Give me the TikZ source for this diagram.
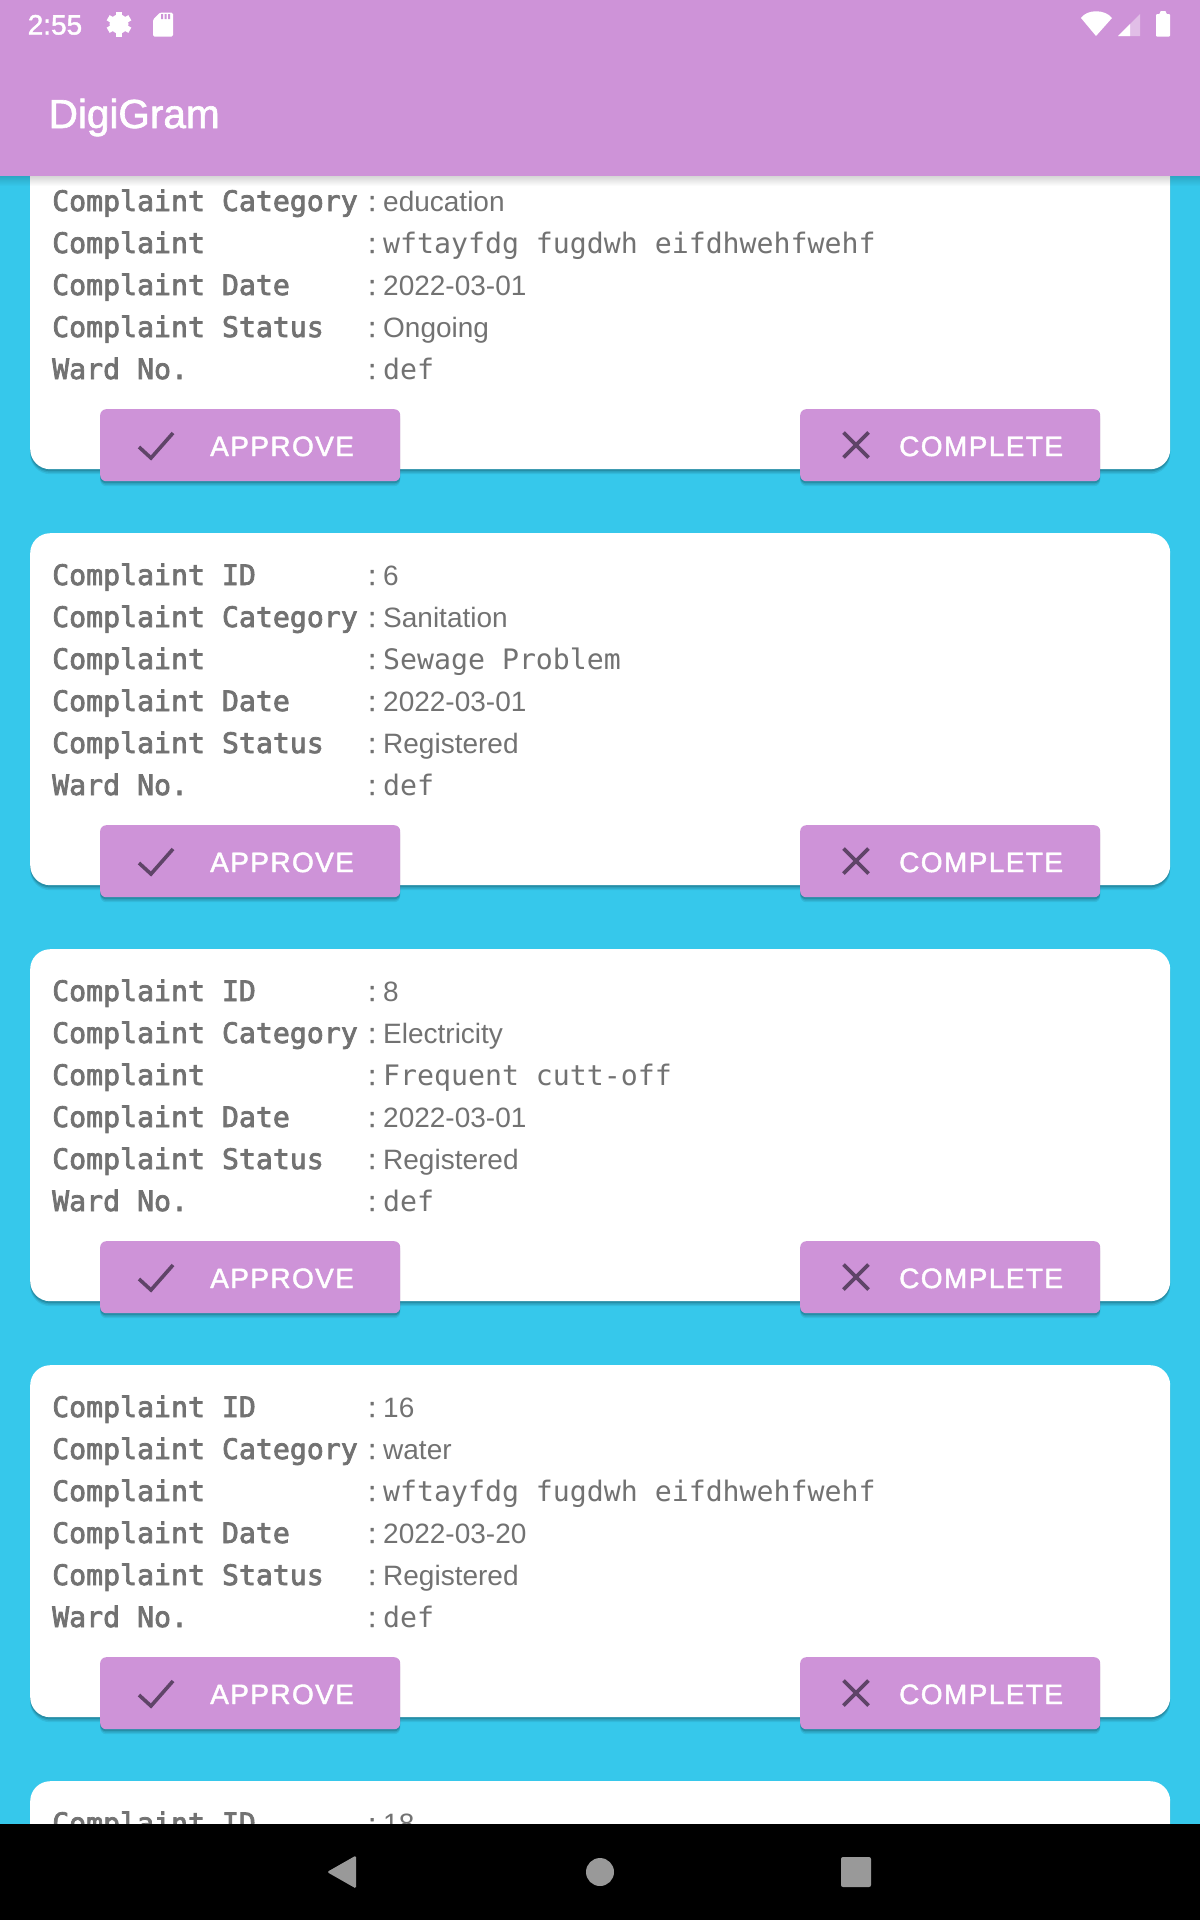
\documentclass[tikz,border=0pt]{standalone}
\usepackage{fontspec}
\usetikzlibrary{positioning,shadows}
\setmainfont{Liberation Sans}
\newfontfamily\monofont{DejaVu Sans Mono}
\newfontfamily\monobold[FakeBold=2.6]{DejaVu Sans Mono}
\newfontfamily\btnfont[LetterSpace=5,FakeBold=1.6]{Liberation Sans}
\newfontfamily\titlefont[FakeBold=1.6]{Liberation Sans}
\definecolor{barpurple}{HTML}{CE93D8}
\definecolor{skyback}{HTML}{36C8EB}
\definecolor{rowgray}{HTML}{727272}
\definecolor{icondark}{HTML}{5F4468}
\definecolor{navgray}{HTML}{999999}

% Offsets inside a card
\def\LabelToColon{++(316,0)}
\def\ColonToValue{++(15,0)}

% One card with its two buttons
\def\ComplaintCard#1#2{
  \node[cardbox] (#1) at (30,#2) {};
  \node[btnbox] (#1Approve) at ([shift={(70,292)}]#1.north west) {};
  \node[btnbox] (#1Complete) at ([shift={(770,292)}]#1.north west) {};
  \node[btntext] (#1ApproveText) at ([shift={(110,47)}]#1Approve.north west) {APPROVE};
  \node[btntext] (#1CompleteText) at ([shift={(99,47)}]#1Complete.north west) {COMPLETE};
  \draw[iconline] ([shift={(39,38)}]#1Approve.north west) -- ++(12,11) -- ++(22,-25);
  \draw[iconline] ([shift={(43.5,23.5)}]#1Complete.north west) -- ++(25,25);
  \draw[iconline] ([shift={(68.5,23.5)}]#1Complete.north west) -- ++(-25,25);
}
% One row of a card: card, row number, label, value
\def\ComplaintRow#1#2#3#4{
  \path (#1.north west) ++(22,{10+42*#2}) node[rowlabel] (#1Label#2) {#3}
        \LabelToColon node[rowlabel] (#1Colon#2) {\titlefont\fontsize{28}{28}\selectfont:}
        \ColonToValue node[rowvalue] (#1Value#2) {#4};
}
\def\Mono#1{{\monofont\fontsize{28.2}{28}\selectfont #1}}

\begin{document}
\begin{tikzpicture}[x=1pt,y=-1pt,
    softshadow/.style={
      drop shadow={shadow xshift=0pt,shadow yshift=-5pt,opacity=.07,fill=black},
      drop shadow={shadow xshift=0pt,shadow yshift=-3.5pt,opacity=.10,fill=black},
      drop shadow={shadow xshift=0pt,shadow yshift=-2pt,opacity=.14,fill=black}},
    cardbox/.style={fill=white,anchor=north west,inner sep=0pt,minimum width=1140pt,minimum height=352pt,
      rounded corners=20pt,softshadow},
    btnbox/.style={fill=barpurple,anchor=north west,inner sep=0pt,minimum width=300pt,minimum height=72pt,
      rounded corners=6pt,softshadow},
    btntext/.style={anchor=base west,inner sep=0pt,text=white,font=\btnfont\fontsize{28}{28}\selectfont},
    rowlabel/.style={anchor=base west,inner sep=0pt,text=rowgray,font=\monobold\fontsize{28.2}{28}\selectfont},
    rowvalue/.style={anchor=base west,inner sep=0pt,text=rowgray,font=\fontsize{28}{28}\selectfont},
    iconline/.style={draw=icondark,line width=3.6pt},
    navicon/.style={fill=navgray}]
\useasboundingbox (0,0) rectangle (1200,1920);
\clip (0,0) rectangle (1200,1920);
\fill[skyback] (0,0) rectangle (1200,1920);

% Cards
\ComplaintCard{CardA}{117}
\ComplaintRow{CardA}{2}{Complaint Category}{education}
\ComplaintRow{CardA}{3}{Complaint}{\Mono{wftayfdg fugdwh eifdhwehfwehf}}
\ComplaintRow{CardA}{4}{Complaint Date}{2022-03-01}
\ComplaintRow{CardA}{5}{Complaint Status}{Ongoing}
\ComplaintRow{CardA}{6}{Ward No.}{\Mono{def}}

\ComplaintCard{CardB}{533}
\ComplaintRow{CardB}{1}{Complaint ID}{6}
\ComplaintRow{CardB}{2}{Complaint Category}{Sanitation}
\ComplaintRow{CardB}{3}{Complaint}{\Mono{Sewage Problem}}
\ComplaintRow{CardB}{4}{Complaint Date}{2022-03-01}
\ComplaintRow{CardB}{5}{Complaint Status}{Registered}
\ComplaintRow{CardB}{6}{Ward No.}{\Mono{def}}

\ComplaintCard{CardC}{949}
\ComplaintRow{CardC}{1}{Complaint ID}{8}
\ComplaintRow{CardC}{2}{Complaint Category}{Electricity}
\ComplaintRow{CardC}{3}{Complaint}{\Mono{Frequent cutt-off}}
\ComplaintRow{CardC}{4}{Complaint Date}{2022-03-01}
\ComplaintRow{CardC}{5}{Complaint Status}{Registered}
\ComplaintRow{CardC}{6}{Ward No.}{\Mono{def}}

\ComplaintCard{CardD}{1365}
\ComplaintRow{CardD}{1}{Complaint ID}{16}
\ComplaintRow{CardD}{2}{Complaint Category}{water}
\ComplaintRow{CardD}{3}{Complaint}{\Mono{wftayfdg fugdwh eifdhwehfwehf}}
\ComplaintRow{CardD}{4}{Complaint Date}{2022-03-20}
\ComplaintRow{CardD}{5}{Complaint Status}{Registered}
\ComplaintRow{CardD}{6}{Ward No.}{\Mono{def}}

\node[cardbox] (CardE) at (30,1781) {};
\ComplaintRow{CardE}{1}{Complaint ID}{18}

% App bar
\foreach \i in {0,...,9} {
  \fill[black,opacity={0.16-0.016*\i}] (0,176+\i) rectangle (1200,177+\i);
}
\fill[barpurple] (0,0) rectangle (1200,176);
\node[anchor=base west,inner sep=0pt,text=white,font=\titlefont\fontsize{40.5}{40}\selectfont] (AppTitle) at (48.5,128) {DigiGram};

% Status bar
\node[anchor=base west,inner sep=0pt,text=white,font=\titlefont\fontsize{28}{28}\selectfont] (Clock) at (27.5,34.5) {2:55};
\foreach \a in {0,60,120} {
  \fill[white,rotate around={\a:(119,24)}] (116,11.5) rectangle (122,36.5);
}
\fill[white,even odd rule] (119,24) circle (9.5) (119,24) circle (4.6);
\fill[white,rounded corners=1.5pt] (153,19.5) -- (160,12.5) -- (173,12.5) -- (173,36.5) -- (153,36.5) -- cycle;
\fill[barpurple] (161,14) rectangle ++(2,5) (164.5,14) rectangle ++(2,5) (168,14) rectangle ++(2,5);
\fill[white] (1096,36) -- (1081,18) .. controls (1087,9) and (1105,9) .. (1112,18) -- cycle;
\fill[white,opacity=.4] (1118,36) -- (1140,36) -- (1140,14) -- cycle;
\fill[white] (1118,36) -- (1130,36) -- (1130,24) -- cycle;
\fill[white,rounded corners=1pt] (1156,14) -- (1160,14) -- (1160,11) -- (1166,11) -- (1166,14) -- (1170,14) -- (1170,36.7) -- (1156,36.7) -- cycle;

% Navigation bar
\fill[black] (0,1824) rectangle (1200,1920);
\fill[navicon,rounded corners=1.5pt] (356,1855.5) -- (356,1888.5) -- (327,1872) -- cycle;
\fill[navicon] (600,1872) circle (14);
\fill[navicon,rounded corners=2pt] (841,1857) rectangle (871,1887);
\end{tikzpicture}
\end{document}
